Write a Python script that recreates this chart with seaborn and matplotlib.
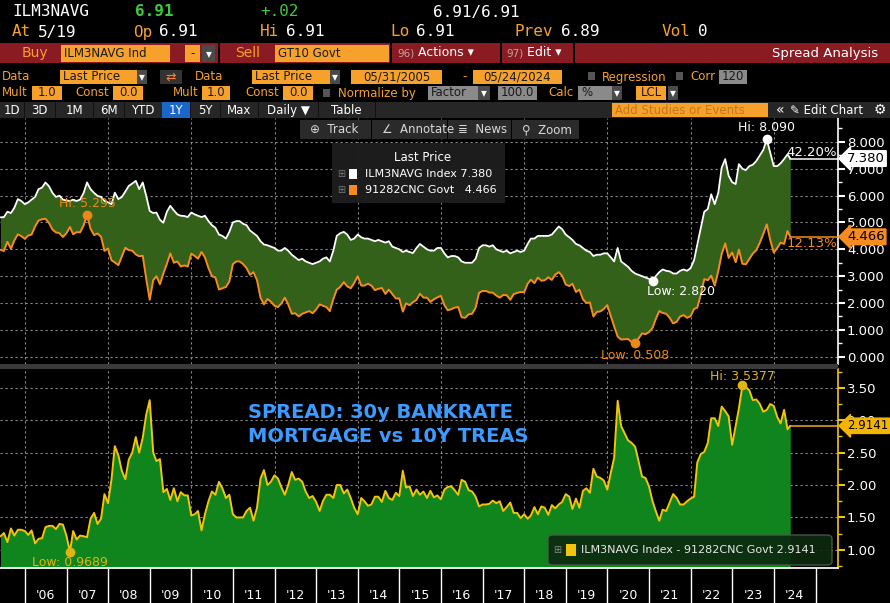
"""Bloomberg-style spread chart: 30y Bankrate mortgage vs 10y Treasury."""

import matplotlib
matplotlib.use('Agg')
import matplotlib.pyplot as plt
import matplotlib.dates as mdates
import matplotlib.transforms as mtransforms
from matplotlib.patches import Rectangle, FancyBboxPatch
from matplotlib.ticker import MultipleLocator, FormatStrFormatter, FixedLocator

import pandas as pd
import seaborn as sns

####################################################################################################
## DATA (month-end readings, 05/31/2005 - 05/24/2024)

MORTGAGE = [
    5.19, 5.20, 5.40, 5.35, 5.55, 5.87, 5.80, 5.68,                          # 2005 May-Dec
    5.75, 5.85, 5.95, 6.24, 6.30, 6.49, 6.35, 6.10, 5.95, 6.00, 5.85, 5.82,  # 2006
    5.80, 5.85, 5.80, 5.85, 6.10, 6.49, 6.24, 6.10, 5.99, 5.95, 5.80, 5.75,  # 2007
    5.68, 6.11, 5.87, 5.95, 6.15, 6.36, 6.45, 6.55, 6.24, 6.49, 6.00, 5.43,  # 2008
    5.35, 5.37, 5.10, 4.99, 5.40, 5.62, 5.45, 5.30, 5.25, 5.24, 5.20, 5.37,  # 2009
    5.30, 5.25, 5.20, 5.25, 5.05, 4.90, 4.80, 4.55, 4.50, 4.40, 4.65, 5.00,  # 2010
    5.05, 5.05, 4.95, 4.90, 4.70, 4.60, 4.50, 4.30, 4.18, 4.15, 4.10, 4.05,  # 2011
    3.95, 3.95, 4.05, 3.95, 3.80, 3.70, 3.60, 3.65, 3.55, 3.50, 3.45, 3.50,  # 2012
    3.55, 3.65, 3.70, 3.55, 3.95, 4.50, 4.60, 4.65, 4.55, 4.35, 4.40, 4.55,  # 2013
    4.45, 4.40, 4.40, 4.35, 4.30, 4.35, 4.30, 4.25, 4.30, 4.10, 4.05, 4.00,  # 2014
    3.90, 3.95, 3.90, 3.86, 4.05, 4.20, 4.10, 4.00, 3.95, 3.95, 4.05, 4.05,  # 2015
    3.85, 3.70, 3.75, 3.75, 3.70, 3.55, 3.50, 3.50, 3.50, 3.65, 4.05, 4.15,  # 2016
    4.15, 4.10, 4.15, 4.00, 3.95, 3.90, 3.95, 3.85, 3.90, 3.95, 3.90, 3.95,  # 2017
    4.20, 4.40, 4.40, 4.50, 4.50, 4.50, 4.50, 4.55, 4.70, 4.85, 4.75, 4.55,  # 2018
    4.45, 4.35, 4.20, 4.15, 4.05, 3.95, 3.90, 3.75, 3.80, 3.80, 3.85, 3.85,  # 2019
    3.70, 3.55, 4.05, 3.55, 3.45, 3.35, 3.20, 3.10, 3.05, 3.00, 2.95, 2.90,  # 2020
    2.82, 3.00, 3.15, 3.25, 3.20, 3.18, 3.10, 3.10, 3.20, 3.25, 3.20, 3.30,  # 2021
    3.60, 4.18, 4.80, 5.40, 5.50, 6.05, 5.68, 6.10, 7.04, 7.36, 6.74, 6.50,  # 2022
    6.43, 7.17, 7.00, 6.95, 7.10, 7.15, 7.29, 7.50, 7.70, 8.09, 7.60, 7.10,  # 2023
    7.10, 7.20, 7.36, 7.54, 7.38,                                            # 2024 Jan-May
]

TREASURY = [
    3.9827, 3.94, 4.28, 4.02, 4.33, 4.56, 4.49, 4.39,
    4.52, 4.55, 4.85, 5.07, 5.12, 5.14, 4.98, 4.73, 4.63, 4.60, 4.46, 4.60,
    4.8311, 4.56, 4.64, 4.63, 4.89, 5.295, 4.76, 4.53, 4.59, 4.47, 3.94, 4.03,
    3.59, 3.51, 3.41, 3.73, 4.06, 3.97, 3.95, 3.81, 3.74, 3.76, 2.92, 2.12,
    2.85, 3.00, 2.70, 3.10, 3.46, 3.85, 3.50, 3.55, 3.36, 3.40, 3.36, 3.84,
    3.75, 3.65, 3.90, 3.70, 3.30, 3.00, 2.95, 2.50, 2.55, 2.60, 2.80, 3.45,
    3.55, 3.55, 3.45, 3.30, 3.05, 3.15, 2.85, 2.20, 1.95, 2.15, 2.05, 1.90,
    1.85, 1.98, 2.20, 1.95, 1.60, 1.62, 1.50, 1.60, 1.65, 1.70, 1.62, 1.76,
    1.95, 1.90, 1.85, 1.70, 2.15, 2.50, 2.60, 2.78, 2.62, 2.55, 2.75, 3.00,
    2.65, 2.65, 2.72, 2.65, 2.48, 2.53, 2.56, 2.34, 2.50, 2.33, 2.17, 2.17,
    1.68, 1.99, 1.92, 2.03, 2.12, 2.35, 2.20, 2.20, 2.04, 2.14, 2.21, 2.27,
    1.92, 1.73, 1.77, 1.83, 1.85, 1.47, 1.45, 1.58, 1.60, 1.83, 2.38, 2.45,
    2.45, 2.39, 2.39, 2.28, 2.20, 2.30, 2.29, 2.12, 2.33, 2.38, 2.41, 2.40,
    2.72, 2.87, 2.74, 2.95, 2.83, 2.85, 2.96, 2.86, 3.06, 3.15, 3.01, 2.69,
    2.63, 2.72, 2.41, 2.50, 2.14, 2.00, 2.02, 1.50, 1.67, 1.69, 1.78, 1.92,
    1.51, 1.13, 0.75, 0.64, 0.65, 0.66, 0.55, 0.508, 0.68, 0.87, 0.84, 0.92,
    1.07, 1.40, 1.70, 1.63, 1.60, 1.45, 1.24, 1.30, 1.50, 1.55, 1.45, 1.51,
    1.78, 1.83, 2.32, 2.89, 2.85, 3.02, 2.65, 3.19, 3.83, 4.22, 3.68, 3.88,
    3.52, 3.99, 3.4623, 3.44, 3.64, 3.84, 3.97, 4.25, 4.57, 4.93, 4.35, 3.88,
    4.05, 4.25, 4.20, 4.68, 4.4659,
]

START_DATE = '2005-05-31'
END_DATE = '2024-05-24'
YEARS = list(range(2006, 2025))
TOP_TICKS = [0, 1, 2, 3, 4, 5, 6, 7, 8]
BOTTOM_TICKS = [1.0, 1.5, 2.0, 2.5, 3.0, 3.5]
SERIES1 = 'ILM3NAVG Index'
SERIES2 = '91282CNC Govt'
NOTE = 'SPREAD: 30y BANKRATE\nMORTGAGE vs 10Y TREAS'

####################################################################################################
## SETTINGS

W, H = 890, 603
WHITE = '#ffffff'
ORANGE = '#f68b1f'
YELLOW = '#f2c40f'
AMBER = '#f7a12d'
GREEN_TOP = '#33611a'
GREEN_BOT = '#11851d'
GRID = '#8a8a8a'
HDR_RED = '#8a1b22'

sns.set_theme(style='dark')
plt.rcParams['font.family'] = ['DejaVu Sans']
plt.rcParams['axes.facecolor'] = 'black'

dates = pd.date_range(START_DATE, periods=len(MORTGAGE), freq='ME')
dates = dates[:-1].append(pd.DatetimeIndex([END_DATE]))
df = pd.DataFrame({'date': dates, 'mort': MORTGAGE, 'treas': TREASURY})
df['spread'] = df['mort'] - df['treas']

fig = plt.figure(figsize=(W / 100, H / 100), dpi=100, facecolor='black')


def px_text(x, y, s, color=WHITE, size=8.5, ha='left', va='center', **kwargs):
    """Figure text placed in pixel coordinates (from top-left)."""
    fig.text(x / W, 1 - y / H, s, color=color, fontsize=size, ha=ha, va=va, **kwargs)


def px_box(x0, y0, x1, y1, color, zorder=1, **kwargs):
    """Figure rectangle placed in pixel coordinates (from top-left)."""
    fig.add_artist(Rectangle((x0 / W, 1 - y1 / H), (x1 - x0) / W, (y1 - y0) / H,
                             transform=fig.transFigure, facecolor=color,
                             edgecolor='none', zorder=zorder, **kwargs))


def field(x0, x1, y0, y1, label, color=AMBER, tcolor='#1a1a1a', ha='left'):
    """Header input box with text."""
    px_box(x0, y0, x1, y1, color)
    tx = x0 + 3 if ha == 'left' else (x0 + x1) / 2
    px_text(tx, (y0 + y1) / 2, label, color=tcolor, ha=ha, zorder=3)


####################################################################################################
## AXES

ax1 = fig.add_axes([0, 1 - 364 / H, 838 / W, (364 - 118) / H])
ax2 = fig.add_axes([0, 1 - 568 / H, 838 / W, (568 - 369) / H], sharex=ax1)
xlim = (pd.Timestamp('2005-05-27'), pd.Timestamp('2025-07-17'))

# Top panel: both yields with the gap filled
ax1.fill_between(df['date'], df['mort'], df['treas'], color=GREEN_TOP, lw=0, zorder=2)
sns.lineplot(data=df, x='date', y='mort', color=WHITE, lw=1.3, ax=ax1, zorder=3)
sns.lineplot(data=df, x='date', y='treas', color=ORANGE, lw=1.4, ax=ax1, zorder=3)

# Bottom panel: spread
ax2.fill_between(df['date'], df['spread'], 0, color=GREEN_BOT, lw=0, zorder=2)
sns.lineplot(data=df, x='date', y='spread', color=YELLOW, lw=1.4, ax=ax2, zorder=3)

ax1.set(xlim=xlim, ylim=(-0.27, 8.89), xlabel=None, ylabel=None)
ax2.set(ylim=(0.72, 3.79), xlabel=None, ylabel=None)

for ax, ticks, minor, fmt, tcol in [(ax1, TOP_TICKS, 0.5, '%.3f', WHITE),
                                    (ax2, BOTTOM_TICKS, 0.25, '%.2f', YELLOW)]:
    ax.set_facecolor('black')
    for side in ['top', 'left', 'bottom']:
        ax.spines[side].set_visible(False)
    ax.spines['right'].set_color(tcol)
    ax.spines['right'].set_linewidth(1.2)
    ax.yaxis.tick_right()
    ax.yaxis.set_major_locator(FixedLocator(ticks))
    ax.yaxis.set_minor_locator(MultipleLocator(minor))
    ax.yaxis.set_major_formatter(FormatStrFormatter(fmt))
    ax.tick_params(axis='y', which='major', colors=tcol, labelcolor=WHITE, length=5,
                   width=1.5, pad=1.5, labelsize=9.5, direction='out')
    ax.tick_params(axis='y', which='minor', colors=tcol, length=3, width=1, direction='out',
                   right=True)
    ax.grid(False)
    for yv in ticks:
        ax.axhline(yv, color=GRID, lw=0.8, ls=(0, (2, 2.5)), zorder=1)
    for yr in YEARS[::2]:
        ax.axvline(pd.Timestamp(f'{yr}-01-01'), color=GRID, lw=0.8, ls=(0, (2, 2.5)), zorder=1)

ax1.tick_params(axis='x', which='both', bottom=False, labelbottom=False)

# Year axis: separators at year starts, labels mid-year
ax2.spines['bottom'].set_visible(True)
ax2.spines['bottom'].set_color(WHITE)
ax2.xaxis.set_major_locator(FixedLocator(
    mdates.date2num([pd.Timestamp(f'{yr}-01-01') for yr in YEARS + [YEARS[-1] + 1]])))
ax2.xaxis.set_minor_locator(FixedLocator(
    mdates.date2num([pd.Timestamp(f'{yr}-07-01') for yr in YEARS])))
ax2.xaxis.set_major_formatter(plt.NullFormatter())
ax2.xaxis.set_minor_formatter(plt.FixedFormatter([f"'{yr % 100:02d}" for yr in YEARS]))
ax2.tick_params(axis='x', which='major', bottom=True, colors=WHITE, length=25, width=1)
ax2.tick_params(axis='x', which='minor', bottom=True, length=0, labelcolor=WHITE,
                labelsize=9, pad=15)

####################################################################################################
## ANNOTATIONS


def mark(ax, idx, col, text, dx, dy, ha, va, tcolor):
    x, y = df['date'].iloc[idx], df[col].iloc[idx]
    ax.plot([x], [y], 'o', color=tcolor, ms=6, zorder=5)
    ax.annotate(text, xy=(x, y), xytext=(dx, dy), textcoords='offset points',
                ha=ha, va=va, color=tcolor, fontsize=9, zorder=6)


i = df['mort'].idxmax()
mark(ax1, i, 'mort', f"Hi: {df['mort'][i]:.3f}", 0, 4, 'center', 'bottom', WHITE)
i = df['mort'].idxmin()
mark(ax1, i, 'mort', f"Low: {df['mort'][i]:.3f}", -4, -3, 'left', 'top', WHITE)
i = df['treas'].idxmax()
mark(ax1, i, 'treas', f"Hi: {df['treas'][i]:.3f}", 0, 3, 'center', 'bottom', '#e8891a')
i = df['treas'].idxmin()
mark(ax1, i, 'treas', f"Low: {df['treas'][i]:.3f}", 0, -4, 'center', 'top', '#e8891a')
i = df['spread'].idxmax()
mark(ax2, i, 'spread', f"Hi: {df['spread'][i]:.4f}", 0, 2, 'center', 'bottom', '#e0b414')
i = df['spread'].idxmin()
mark(ax2, i, 'spread', f"Low: {df['spread'][i]:.4f}", 0, -3, 'center', 'top', '#e0b414')

last = df.iloc[-1]
for ax, val, col, fc, pct, fs in [
        (ax1, last['mort'], WHITE, WHITE, (last['mort'] / df['mort'][0] - 1) * 100, 9.5),
        (ax1, last['treas'], ORANGE, ORANGE, (last['treas'] / df['treas'][0] - 1) * 100, 9.5),
        (ax2, last['spread'], '#f5a623', '#f5b400', None, 8.5)]:
    ax.plot([last['date'], xlim[1]], [val, val], color=col, lw=1.1, zorder=4)
    trans = mtransforms.blended_transform_factory(ax.transAxes, ax.transData)
    label = f'{val:.4f}' if ax is ax2 else f'{val:.3f}'
    ax.text(1.0 + 9 / 838, val, label, transform=trans, ha='left', va='center',
            fontsize=fs, color='black', clip_on=False, zorder=10,
            bbox=dict(boxstyle='larrow,pad=0.1', fc=fc, ec=fc))
    if pct is not None:
        above = val > 6
        ax.text(0.999, val, f'{pct:.2f}%', transform=trans, ha='right',
                va='bottom' if above else 'top', color=col, fontsize=9.5, zorder=6)

ax2.text(248 / 838, 0.72, NOTE, transform=ax2.transAxes, color='#3d9bff', fontsize=14,
         fontweight='bold', ha='left', va='center', linespacing=1.35)

# Legends
px_box(332, 143, 505, 203, '#1e1e1e', zorder=4, alpha=0.95)
px_text(423, 158, 'Last Price', size=8.5, ha='center', zorder=5)
px_box(349, 169, 357, 179, WHITE, zorder=5)
px_text(365, 174, f"{SERIES1} {last['mort']:.3f}", size=8, zorder=5)
px_box(349, 185, 357, 195, ORANGE, zorder=5)
px_text(365, 190, f"{SERIES2}   {last['treas']:.3f}", size=8, zorder=5)
px_text(341, 174, '⊞', color='#777777', size=7, ha='center', zorder=5)
px_text(341, 190, '⊞', color='#777777', size=7, ha='center', zorder=5)

fig.add_artist(FancyBboxPatch((548 / W, 1 - 565 / H), 284 / W, 30 / H,
                              boxstyle='round,pad=0,rounding_size=0.006',
                              transform=fig.transFigure, fc='#0c2a0f', ec='#4a5a4a',
                              lw=1, alpha=0.92, zorder=4))
px_box(566, 544, 576, 556, YELLOW, zorder=5)
px_text(557, 550, '⊞', color='#888888', size=7, ha='center', zorder=5)
px_text(581, 550, f"{SERIES1} - {SERIES2} {last['spread']:.4f}", color='#e8e8e8',
        size=8, zorder=5)

####################################################################################################
## HEADER

mono = dict(family='DejaVu Sans Mono', size=11.5)
px_text(12, 12, 'ILM3NAVG', **mono)
px_text(135, 12, '6.91', color='#3ec83e', fontweight='bold', **mono)
px_text(260, 12, '+.02', color='#3ec83e', **mono)
px_text(433, 12, '6.91/6.91', **mono)
for x, lab, val in [(12, 'At', '5/19'), (133, 'Op', '6.91'), (260, 'Hi', '6.91'),
                    (390, 'Lo', '6.91'), (515, 'Prev', '6.89'), (662, 'Vol', '0')]:
    px_text(x, 32, lab, color=AMBER, **mono)
    px_text(x + 10 * len(lab) + 6, 32, val, **mono)

# red command bar
px_box(0, 43, W, 63, HDR_RED)
for x in [218, 390, 500, 573]:
    px_box(x, 43, x + 2, 63, 'black', zorder=2)
px_text(22, 53, 'Buy', color=AMBER, size=10)
field(61, 170, 45, 62, 'ILM3NAVG Ind')
field(185, 200, 45, 62, '-', ha='center')
field(202, 215, 45, 62, '▾', color='#4a4a4a', tcolor=WHITE, ha='center')
px_text(235, 53, 'Sell', color=AMBER, size=10)
field(275, 389, 45, 62, 'GT10 Govt')
px_text(397, 53, '96)', color='#c8a0a0', size=7.5)
px_text(418, 53, 'Actions ▾', size=9)
px_text(506, 53, '97)', color='#c8a0a0', size=7.5)
px_text(527, 53, 'Edit ▾', size=9)
px_text(878, 53, 'Spread Analysis', size=9.5, ha='right')

# data rows
px_text(2, 77, 'Data', color=AMBER)
field(60, 137, 70, 84, 'Last Price')
field(137, 147, 70, 84, '▾', color='#4a4a4a', tcolor=WHITE, ha='center')
px_box(160, 70, 182, 84, '#333333')
px_text(171, 77, '⇄', color='#ff7f2a', size=9, ha='center', zorder=3)
px_text(195, 77, 'Data', color=AMBER)
field(252, 330, 70, 84, 'Last Price')
field(330, 340, 70, 84, '▾', color='#4a4a4a', tcolor=WHITE, ha='center')
field(351, 442, 70, 84, '05/31/2005', ha='center')
px_text(462, 77, '-', color=AMBER)
field(473, 562, 70, 84, '05/24/2024', ha='center')
px_box(588, 72, 595, 80, '#555555')
px_text(602, 77, 'Regression', color=AMBER)
px_box(676, 72, 683, 80, '#555555')
px_text(690, 77, 'Corr', color=AMBER)
field(719, 747, 70, 84, '120', color='#8a8a8a', ha='center')

px_text(2, 93, 'Mult', color=AMBER)
field(32, 62, 86, 100, '1.0', ha='center')
px_text(75, 93, 'Const', color=AMBER)
field(113, 143, 86, 100, '0.0', ha='center')
px_text(173, 93, 'Mult', color=AMBER)
field(202, 230, 86, 100, '1.0', ha='center')
px_text(245, 93, 'Const', color=AMBER)
field(283, 313, 86, 100, '0.0', ha='center')
px_box(323, 89, 330, 97, '#555555')
px_text(338, 93, 'Normalize by', color=AMBER)
field(428, 478, 86, 100, 'Factor', color='#8a8a8a')
field(478, 490, 86, 100, '▾', color='#4a4a4a', tcolor=WHITE, ha='center')
field(498, 537, 86, 100, '100.0', color='#8a8a8a', ha='center')
px_text(548, 93, 'Calc', color=AMBER)
field(578, 612, 86, 100, '%', color='#8a8a8a')
field(612, 622, 86, 100, '▾', color='#4a4a4a', tcolor=WHITE, ha='center')
field(636, 666, 86, 100, 'LCL', ha='center')
field(668, 678, 86, 100, '▾', color='#4a4a4a', tcolor=WHITE, ha='center')

# period bar
px_box(0, 102, W, 118, '#262626')
for x0, x1, lab in [(0, 24, '1D'), (24, 55, '3D'), (55, 93, '1M'), (93, 124, '6M'),
                    (124, 162, 'YTD'), (162, 190, '1Y'), (190, 220, '5Y'),
                    (220, 258, 'Max'), (258, 318, 'Daily ▼'), (318, 375, 'Table')]:
    if lab == '1Y':
        px_box(x0, 102, x1, 118, '#1a66c9', zorder=2)
    px_box(x1, 102, x1 + 1, 118, '#111111', zorder=2)
    px_text((x0 + x1) / 2, 110, lab, ha='center', size=8.5, zorder=3)
field(612, 768, 103, 117, 'Add Studies or Events', color=AMBER, tcolor='#c07a1a')
px_text(780, 110, '«', size=10, ha='center')
px_text(790, 110, '✎ Edit Chart', size=8.5)
px_text(880, 110, '⚙', size=10, ha='center')

# chart toolbar
for x0, x1, lab in [(300, 372, '⊕  Track'), (372, 448, '∠  Annotate'),
                    (448, 512, '≣  News'), (512, 580, '⚲  Zoom')]:
    px_box(x0, 120, x1 - 1, 139, '#2a2a2a', zorder=4)
    px_text(x0 + 10, 129.5, lab, color='#d8d8d8', size=8.5, zorder=5)

# panel separator
px_box(0, 364, 838, 369, '#3a3a3a', zorder=4)

fig.savefig('out.png', dpi=100, facecolor='black')
